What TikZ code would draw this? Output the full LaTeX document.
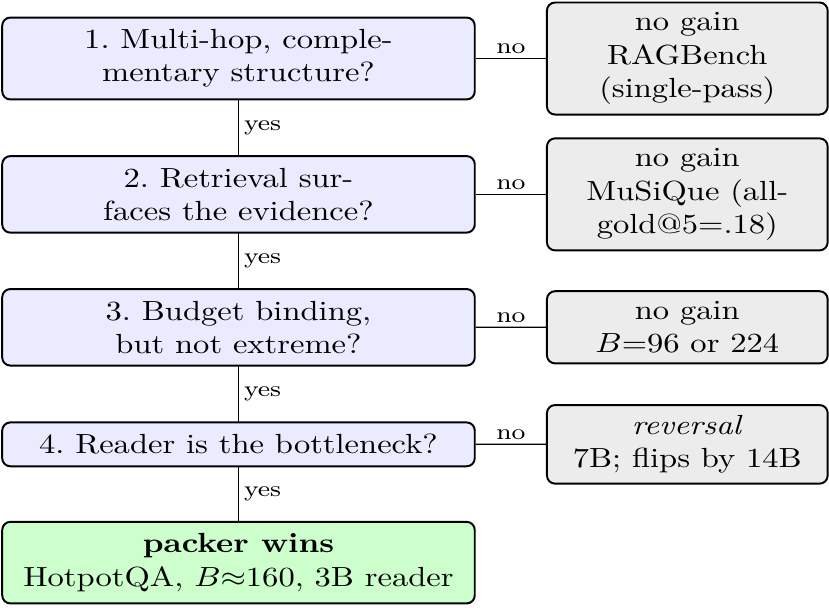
\documentclass[tikz,border=0pt]{standalone}
\usepackage{amsmath}
\usepackage{amssymb}
\usepackage{tikz}

\begin{document}
\frenchspacing
\begin{tikzpicture}[yscale=0.85, transform shape,
    qbox/.style={rectangle, rounded corners=2.5pt, draw, semithick, fill=blue!8,
        minimum width=5.1cm, inner xsep=4pt, inner ysep=4.3pt, align=center},
    winbox/.style={qbox, fill=green!20},
    endbox/.style={rectangle, rounded corners=2.5pt, draw, semithick, fill=gray!15,
        minimum width=3.03cm, inner xsep=3pt, inner ysep=3.7pt, align=center},
    lbl/.style={font=\footnotesize, inner sep=1.5pt}]
    \useasboundingbox (-2.574,0.743) rectangle (6.373,-6.967);

    % questions, top to bottom
    \node[qbox] (q1) at (0,0) {1. Multi-hop, comple-\\mentary structure?};
    \node[qbox] (q2) at (0,-1.725) {2. Retrieval sur-\\faces the evidence?};
    \node[qbox] (q3) at (0,-3.413) {3. Budget binding,\\but not extreme?};
    \node[qbox] (q4) at (0,-4.899) {4. Reader is the bottleneck?};
    \node[winbox] (win) at (0,-6.401) {\textbf{packer wins}\\HotpotQA, $B{\approx}160$, 3B reader};

    % outcomes on the right
    \node[endbox] (r1) at (4.844,0) {no gain\\RAGBench\\(single-pass)};
    \node[endbox] (r2) at (4.844,-1.725) {no gain\\MuSiQue (all-\\gold@5=.18)};
    \node[endbox] (r3) at (4.844,-3.413) {no gain\\$B{=}96$ or 224};
    \node[endbox] (r4) at (4.844,-4.899) {\emph{reversal}\\7B; flips by 14B};

    \draw (q1) -- node[lbl, right] {yes} (q2);
    \draw (q2) -- node[lbl, right] {yes} (q3);
    \draw (q3) -- node[lbl, right] {yes} (q4);
    \draw (q4) -- node[lbl, right] {yes} (win);

    \draw (q1) -- node[lbl, above] {no} (r1);
    \draw (q2) -- node[lbl, above] {no} (r2);
    \draw (q3) -- node[lbl, above] {no} (r3);
    \draw (q4) -- node[lbl, above] {no} (r4);
\end{tikzpicture}
\end{document}
